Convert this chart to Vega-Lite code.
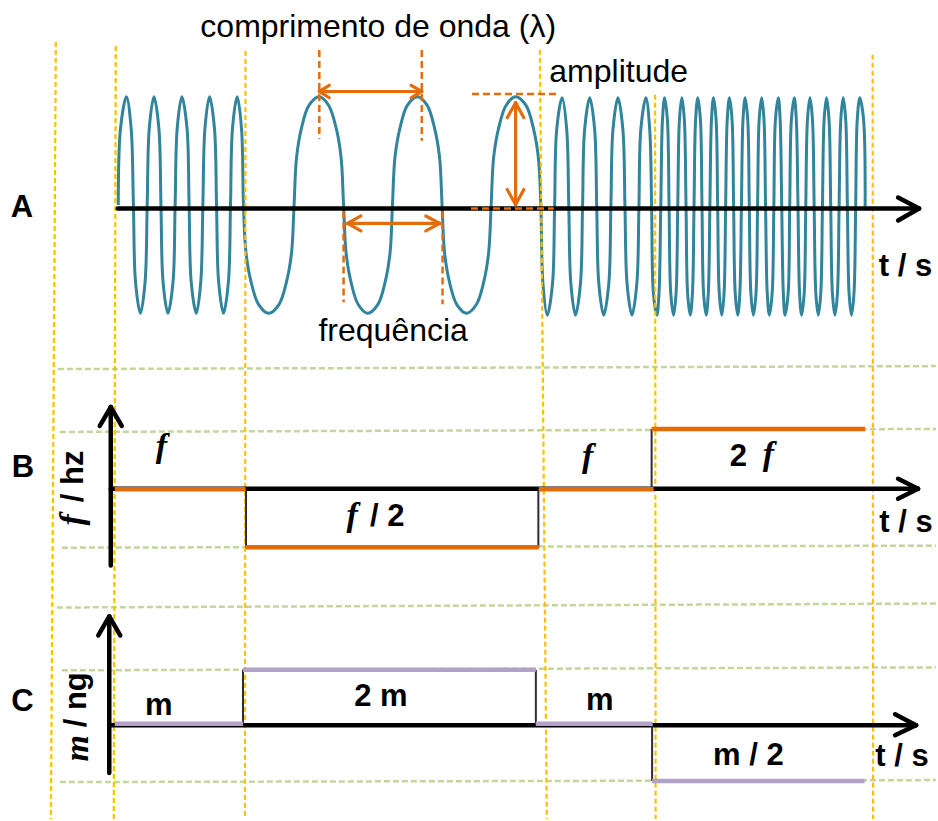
{
  "$schema": "https://vega.github.io/schema/vega-lite/v6.json",
  "width": 938,
  "height": 821,
  "autosize": {"type": "fit", "contains": "padding"},
  "padding": 0,
  "background": "white",
  "config": {"view": {"stroke": null}},
  "datasets": {
    "wave": [
      {"x":118.5,"y":205.5},{"x":120.8,"y":128.5},{"x":126.7,"y":97},{"x":131.4,"y":128.5},{"x":133.7,"y":205.5},
      {"x":135.8,"y":282.5},{"x":140.7,"y":314},{"x":145.4,"y":282.5},{"x":147.5,"y":205.5},
      {"x":149.6,"y":128.5},{"x":154.3,"y":97},{"x":159.2,"y":128.5},{"x":161.3,"y":205.5},
      {"x":163.4,"y":282.5},{"x":168.3,"y":314},{"x":173.4,"y":282.5},{"x":175.5,"y":205.5},
      {"x":177.6,"y":128.5},{"x":182.3,"y":97},{"x":187.4,"y":128.5},{"x":189.5,"y":205.5},
      {"x":191.6,"y":282.5},{"x":196.7,"y":314},{"x":201.2,"y":282.5},{"x":203.3,"y":205.5},
      {"x":205.4,"y":128.5},{"x":210,"y":97},{"x":214.9,"y":128.5},{"x":217,"y":205.5},
      {"x":219.1,"y":282.5},{"x":224,"y":314},{"x":228.9,"y":282.5},{"x":231,"y":205.5},
      {"x":233,"y":128.5},{"x":237.7,"y":97},{"x":242,"y":128.5},{"x":244,"y":205.5},
      {"x":246.5,"y":253.2},{"x":251.6,"y":282.5},{"x":259.2,"y":305.3},{"x":269.3,"y":314},{"x":279.5,"y":305.3},{"x":287.1,"y":282.5},{"x":292.2,"y":253.2},{"x":294.7,"y":205.5},
      {"x":297.2,"y":157.8},{"x":302.1,"y":128.5},{"x":309.6,"y":105.7},{"x":320,"y":97},{"x":329.4,"y":105.7},{"x":336.9,"y":128.5},{"x":341.8,"y":157.8},{"x":344.3,"y":205.5},
      {"x":346.8,"y":253.2},{"x":351.7,"y":282.5},{"x":359,"y":305.3},{"x":368.3,"y":314},{"x":378.6,"y":305.3},{"x":386,"y":282.5},{"x":390.9,"y":253.2},{"x":393.3,"y":205.5},
      {"x":395.8,"y":157.8},{"x":400.8,"y":128.5},{"x":408.2,"y":105.7},{"x":418.3,"y":97},{"x":428.1,"y":105.7},{"x":435.5,"y":128.5},{"x":440.5,"y":157.8},{"x":443,"y":205.5},
      {"x":445.5,"y":253.2},{"x":450.4,"y":282.5},{"x":457.8,"y":305.3},{"x":467.7,"y":314},{"x":477.4,"y":305.3},{"x":484.8,"y":282.5},{"x":489.7,"y":253.2},{"x":492.2,"y":205.5},
      {"x":494.7,"y":157.8},{"x":499.7,"y":128.5},{"x":507.1,"y":105.7},{"x":516.7,"y":97},{"x":527.1,"y":105.7},{"x":534.5,"y":128.5},{"x":539.5,"y":157.8},{"x":542,"y":206},
      {"x":544.1,"y":284.4},{"x":548.5,"y":316},{"x":553.7,"y":284.4},{"x":555.8,"y":207},
      {"x":557.9,"y":129.6},{"x":563.3,"y":98},{"x":567.9,"y":129.6},{"x":570,"y":207},
      {"x":572.1,"y":284.4},{"x":576.7,"y":316},{"x":581.7,"y":284.4},{"x":583.8,"y":207},
      {"x":585.9,"y":129.6},{"x":591,"y":98},{"x":595.9,"y":129.6},{"x":598,"y":207},
      {"x":600.1,"y":284.4},{"x":605,"y":316},{"x":610.1,"y":284.4},{"x":612.2,"y":207},
      {"x":614.3,"y":129.6},{"x":619.3,"y":98},{"x":624.2,"y":129.6},{"x":626.3,"y":207},
      {"x":628.4,"y":284.4},{"x":633.3,"y":316},{"x":638.2,"y":284.4},{"x":640.3,"y":207},
      {"x":642.2,"y":129.6},{"x":647.3,"y":98},{"x":651.1,"y":129.6},{"x":653,"y":207},
      {"x":654.8,"y":294.2},{"x":658.3,"y":316},{"x":660.4,"y":294.2},{"x":662.2,"y":207},
      {"x":663.9,"y":119.8},{"x":666,"y":98},{"x":668.8,"y":119.8},{"x":670.5,"y":207},
      {"x":672.2,"y":294.2},{"x":675,"y":316},{"x":677.5,"y":294.2},{"x":679.2,"y":207},
      {"x":680.9,"y":119.8},{"x":683.3,"y":98},{"x":685.8,"y":119.8},{"x":687.5,"y":207},
      {"x":689.1,"y":294.2},{"x":691.7,"y":316},{"x":693.9,"y":294.2},{"x":695.5,"y":207},
      {"x":697.1,"y":119.8},{"x":699.3,"y":98},{"x":701.9,"y":119.8},{"x":703.5,"y":207},
      {"x":705.1,"y":294.2},{"x":707.7,"y":316},{"x":709.8,"y":294.2},{"x":711.4,"y":207},
      {"x":713,"y":119.8},{"x":715,"y":98},{"x":717.6,"y":119.8},{"x":719.2,"y":207},
      {"x":720.8,"y":294.2},{"x":723.3,"y":316},{"x":725.6,"y":294.2},{"x":727.2,"y":207},
      {"x":728.8,"y":119.8},{"x":731,"y":98},{"x":733.6,"y":119.8},{"x":735.2,"y":207},
      {"x":736.8,"y":294.2},{"x":739.3,"y":316},{"x":741.4,"y":294.2},{"x":743,"y":207},
      {"x":744.6,"y":119.8},{"x":746.7,"y":98},{"x":749.3,"y":119.8},{"x":750.9,"y":207},
      {"x":752.5,"y":294.2},{"x":755,"y":316},{"x":757.6,"y":294.2},{"x":759.2,"y":207},
      {"x":760.8,"y":119.8},{"x":763.3,"y":98},{"x":765.6,"y":119.8},{"x":767.2,"y":207},
      {"x":768.9,"y":294.2},{"x":771,"y":316},{"x":773.8,"y":294.2},{"x":775.5,"y":207},
      {"x":777.1,"y":119.8},{"x":780,"y":98},{"x":781.8,"y":119.8},{"x":783.4,"y":207},
      {"x":785,"y":294.2},{"x":786.7,"y":316},{"x":789.8,"y":294.2},{"x":791.4,"y":207},
      {"x":793.1,"y":119.8},{"x":796,"y":98},{"x":798,"y":119.8},{"x":799.7,"y":207},
      {"x":801.3,"y":294.2},{"x":803.3,"y":316},{"x":805.9,"y":294.2},{"x":807.5,"y":207},
      {"x":809.2,"y":119.8},{"x":811.7,"y":98},{"x":814.2,"y":119.8},{"x":815.9,"y":207},
      {"x":817.6,"y":294.2},{"x":820,"y":316},{"x":822.5,"y":294.2},{"x":824.2,"y":207},
      {"x":825.9,"y":119.8},{"x":828.3,"y":98},{"x":830.8,"y":119.8},{"x":832.5,"y":207},
      {"x":834.2,"y":294.2},{"x":836.7,"y":316},{"x":839.2,"y":294.2},{"x":840.9,"y":207},
      {"x":842.6,"y":119.8},{"x":845,"y":98},{"x":847.5,"y":119.8},{"x":849.2,"y":207},
      {"x":850.9,"y":294.2},{"x":853.3,"y":316},{"x":855.8,"y":294.2},{"x":857.5,"y":207},
      {"x":859.1,"y":119.8},{"x":861.7,"y":98},{"x":865.4,"y":119.8},{"x":867,"y":207}
    ],
    "gridV": [
      {"x":56,"y":42,"x2":51,"y2":821},
      {"x":116,"y":46,"x2":114,"y2":821},
      {"x":246,"y":51,"x2":245.5,"y2":821},
      {"x":541,"y":50,"x2":548,"y2":821},
      {"x":656.5,"y":95,"x2":657,"y2":821},
      {"x":874.5,"y":55,"x2":875,"y2":821}
    ],
    "gridH": [
      {"x":58,"y":370,"x2":938,"y2":367},
      {"x":60,"y":433,"x2":938,"y2":430},
      {"x":62,"y":549,"x2":938,"y2":547},
      {"x":57,"y":609,"x2":938,"y2":605},
      {"x":62,"y":672,"x2":938,"y2":669},
      {"x":60,"y":784,"x2":938,"y2":782}
    ],
    "axes": [
      {"x":118,"y":209,"x2":921,"y2":209},
      {"x":900,"y":198,"x2":921,"y2":209},
      {"x":900,"y":221,"x2":921,"y2":209},
      {"x":111,"y":567,"x2":111,"y2":408},
      {"x":100,"y":427,"x2":111,"y2":408},
      {"x":122,"y":427,"x2":111,"y2":408},
      {"x":111,"y":490,"x2":920,"y2":490},
      {"x":900,"y":480,"x2":920,"y2":490},
      {"x":900,"y":500,"x2":920,"y2":490},
      {"x":109.5,"y":775,"x2":109.5,"y2":618},
      {"x":98.5,"y":637,"x2":109.5,"y2":618},
      {"x":120.5,"y":637,"x2":109.5,"y2":618},
      {"x":110,"y":727,"x2":918,"y2":727},
      {"x":897,"y":716,"x2":918,"y2":727},
      {"x":897,"y":737,"x2":918,"y2":727}
    ],
    "steps": [
      {"x":246.5,"y":490,"x2":246.5,"y2":548.5},
      {"x":539.5,"y":548.5,"x2":539.5,"y2":490},
      {"x":653,"y":490,"x2":653,"y2":430},
      {"x":243.5,"y":726,"x2":243.5,"y2":671.5},
      {"x":537,"y":671.5,"x2":537,"y2":726},
      {"x":653.5,"y":726,"x2":653.5,"y2":783}
    ],
    "freqB": [
      {"x":115,"y":490.5,"x2":246,"y2":490.5},
      {"x":246,"y":548.5,"x2":540,"y2":548.5},
      {"x":540,"y":490.5,"x2":655,"y2":490.5},
      {"x":653,"y":430,"x2":867,"y2":430}
    ],
    "massC": [
      {"x":115,"y":725.5,"x2":243.5,"y2":725.5},
      {"x":243.5,"y":671.5,"x2":537,"y2":671.5},
      {"x":537,"y":725.5,"x2":654,"y2":725.5},
      {"x":653.5,"y":783,"x2":866.5,"y2":783}
    ],
    "annDash": [
      {"x":320,"y":50,"x2":320,"y2":139},
      {"x":422.7,"y":50,"x2":422.7,"y2":141},
      {"x":344.3,"y":212,"x2":344.3,"y2":303},
      {"x":443.5,"y":212,"x2":443.5,"y2":305},
      {"x":473,"y":94.3,"x2":558,"y2":94.3},
      {"x":472,"y":209,"x2":555,"y2":209}
    ],
    "annArrow": [
      {"x":320,"y":91.7,"x2":422.7,"y2":91.7},
      {"x":330,"y":85.5,"x2":320,"y2":91.7},
      {"x":330,"y":98,"x2":320,"y2":91.7},
      {"x":412,"y":85.5,"x2":422.7,"y2":91.7},
      {"x":412,"y":98,"x2":422.7,"y2":91.7},
      {"x":348.3,"y":224,"x2":440.7,"y2":224},
      {"x":361.7,"y":216.5,"x2":348.3,"y2":224},
      {"x":361.7,"y":231.5,"x2":348.3,"y2":224},
      {"x":426.7,"y":216.5,"x2":440.7,"y2":224},
      {"x":426.7,"y":231.5,"x2":440.7,"y2":224},
      {"x":516.7,"y":103,"x2":516.7,"y2":205},
      {"x":508.3,"y":118,"x2":516.7,"y2":103},
      {"x":525,"y":118,"x2":516.7,"y2":103},
      {"x":508.3,"y":190,"x2":516.7,"y2":205},
      {"x":525,"y":190,"x2":516.7,"y2":205}
    ],
    "txtRegular": [
      {"x":379,"y":37,"t":"comprimento de onda (λ)"},
      {"x":620,"y":82,"t":"amplitude"},
      {"x":394,"y":342,"t":"frequência"}
    ],
    "txtBold": [
      {"x":22,"y":218,"t":"A"},
      {"x":23,"y":478,"t":"B"},
      {"x":22.5,"y":713,"t":"C"},
      {"x":907.5,"y":277,"t":"t / s"},
      {"x":908,"y":533,"t":"t / s"},
      {"x":904,"y":768,"t":"t / s"},
      {"x":159,"y":717,"t":"m"},
      {"x":381.7,"y":708,"t":"2 m"},
      {"x":601,"y":712,"t":"m"},
      {"x":750,"y":767,"t":"m / 2"},
      {"x":388,"y":527,"t":"/ 2"},
      {"x":740,"y":467,"t":"2"}
    ],
    "txtItalic": [
      {"x":161.7,"y":458,"t":"f"},
      {"x":353,"y":527,"t":"f"},
      {"x":589,"y":468,"t":"f"},
      {"x":770,"y":466,"t":"f"}
    ],
    "txtRotBold": [
      {"x":83,"y":477.5,"t":"/ hz"},
      {"x":86,"y":701.5,"t":"/ ng"}
    ],
    "txtRotItalic": [
      {"x":83,"y":521,"t":"f"},
      {"x":88,"y":750,"t":"m"}
    ]
  },
  "encoding": {
    "x": {"field": "x", "type": "quantitative", "scale": {"domain": [0, 938], "nice": false, "zero": false}, "axis": null},
    "y": {"field": "y", "type": "quantitative", "scale": {"domain": [0, 821], "nice": false, "zero": false, "reverse": true}, "axis": null}
  },
  "layer": [
    {
      "data": {"name": "gridH"},
      "mark": {"type": "rule", "color": "#C3D69B", "strokeWidth": 2.5, "strokeDash": [6, 3]},
      "encoding": {"x2": {"field": "x2"}, "y2": {"field": "y2"}}
    },
    {
      "data": {"name": "wave"},
      "mark": {"type": "line", "color": "#31849B", "strokeWidth": 3, "interpolate": "catmull-rom"},
      "encoding": {}
    },
    {
      "data": {"name": "gridV"},
      "mark": {"type": "rule", "color": "#FFC000", "strokeWidth": 2.2, "strokeDash": [5, 3]},
      "encoding": {"x2": {"field": "x2"}, "y2": {"field": "y2"}}
    },
    {
      "data": {"name": "axes"},
      "mark": {"type": "rule", "color": "#000000", "strokeWidth": 4.5, "strokeCap": "round"},
      "encoding": {"x2": {"field": "x2"}, "y2": {"field": "y2"}}
    },
    {
      "data": {"name": "steps"},
      "mark": {"type": "rule", "color": "#2F2B3A", "strokeWidth": 2},
      "encoding": {"x2": {"field": "x2"}, "y2": {"field": "y2"}}
    },
    {
      "data": {"name": "freqB"},
      "mark": {"type": "rule", "color": "#E36C09", "strokeWidth": 4.5},
      "encoding": {"x2": {"field": "x2"}, "y2": {"field": "y2"}}
    },
    {
      "data": {"name": "massC"},
      "mark": {"type": "rule", "color": "#B3A2C7", "strokeWidth": 4.5},
      "encoding": {"x2": {"field": "x2"}, "y2": {"field": "y2"}}
    },
    {
      "data": {"name": "annDash"},
      "mark": {"type": "rule", "color": "#E46C0A", "strokeWidth": 2.5, "strokeDash": [7, 4]},
      "encoding": {"x2": {"field": "x2"}, "y2": {"field": "y2"}}
    },
    {
      "data": {"name": "annArrow"},
      "mark": {"type": "rule", "color": "#E46C0A", "strokeWidth": 3.2, "strokeCap": "round"},
      "encoding": {"x2": {"field": "x2"}, "y2": {"field": "y2"}}
    },
    {
      "data": {"name": "txtRegular"},
      "mark": {"type": "text", "font": "Liberation Sans", "fontSize": 32, "align": "center", "baseline": "alphabetic", "color": "#000000"},
      "encoding": {"text": {"field": "t"}}
    },
    {
      "data": {"name": "txtBold"},
      "mark": {"type": "text", "font": "Liberation Sans", "fontSize": 31, "fontWeight": "bold", "align": "center", "baseline": "alphabetic", "color": "#000000"},
      "encoding": {"text": {"field": "t"}}
    },
    {
      "data": {"name": "txtItalic"},
      "mark": {"type": "text", "font": "Liberation Serif", "fontSize": 34, "fontStyle": "italic", "fontWeight": "bold", "align": "center", "baseline": "alphabetic", "color": "#000000"},
      "encoding": {"text": {"field": "t"}}
    },
    {
      "data": {"name": "txtRotBold"},
      "mark": {"type": "text", "font": "Liberation Sans", "fontSize": 31, "fontWeight": "bold", "align": "center", "baseline": "alphabetic", "angle": 270, "color": "#000000"},
      "encoding": {"text": {"field": "t"}}
    },
    {
      "data": {"name": "txtRotItalic"},
      "mark": {"type": "text", "font": "Liberation Serif", "fontSize": 34, "fontStyle": "italic", "fontWeight": "bold", "align": "center", "baseline": "alphabetic", "angle": 270, "color": "#000000"},
      "encoding": {"text": {"field": "t"}}
    }
  ]
}
